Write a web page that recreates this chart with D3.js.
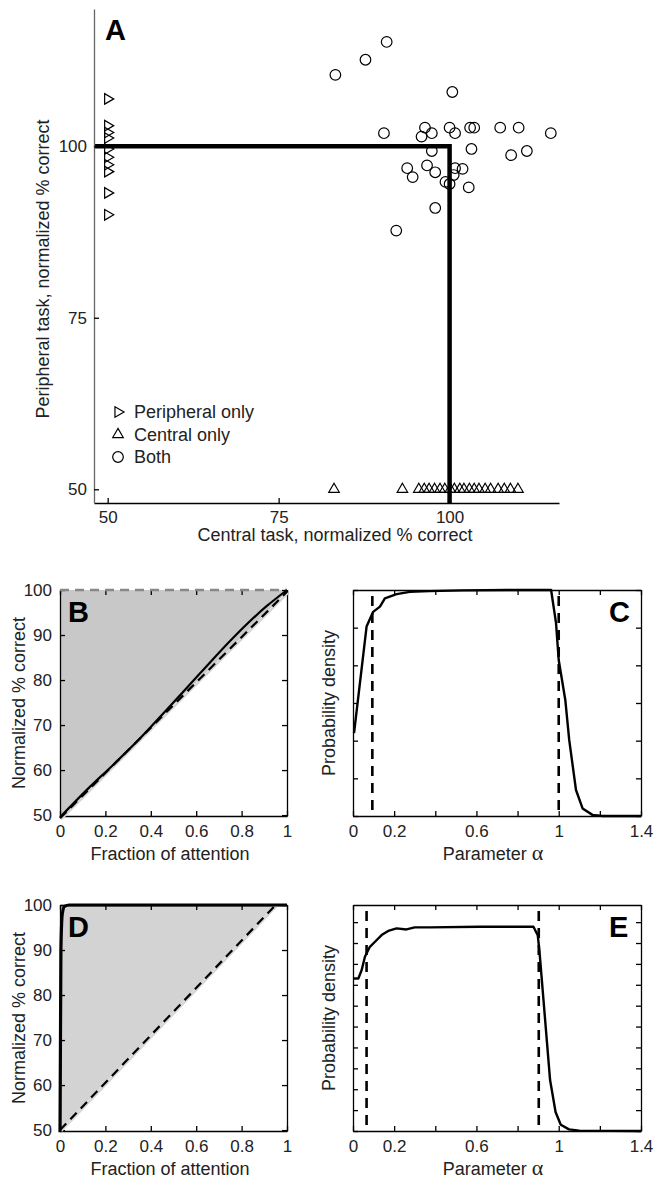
<!DOCTYPE html>
<html>
<head>
<meta charset="utf-8">
<script src="https://cdn.jsdelivr.net/npm/d3@7"></script>
<style>
  body { margin: 0; background: #fff; }
  text { font-family: Arial, "Liberation Sans", sans-serif; }
</style>
</head>
<body>
<div id="chart"></div>
<script>
// ---- panel A: scatter of normalized % correct ----
const aTicks = [50, 75, 100];
const periphOnlyY = [106.9, 103.0, 102.0, 101.2, 99.6, 98.4, 97.3, 96.3, 93.2, 90.0];
const centralOnlyX = [83.1, 93.1, 95.5, 96.3, 97.0, 97.8, 98.6, 99.3, 100.1, 100.7, 101.5, 102.1,
                      102.9, 103.6, 104.3, 105.2, 106.0, 107.1, 108.0, 108.9, 110.0];
const bothX = [90.8, 87.7, 83.3, 100.4, 90.4, 96.4, 95.9, 97.4, 100.0, 100.8, 103.0, 103.6, 107.4,
               110.1, 114.8, 97.4, 103.2, 111.3, 109.0, 93.8, 94.6, 96.7, 97.9, 100.8, 101.9,
               100.6, 99.4, 100.0, 102.8, 97.9, 92.2];
const bothY = [115.2, 112.6, 110.4, 107.9, 101.9, 102.7, 101.4, 101.9, 102.7, 101.9, 102.7, 102.7,
               102.7, 102.7, 101.9, 99.3, 99.6, 99.3, 98.7, 96.8, 95.5, 97.2, 96.2, 96.8, 96.7,
               95.8, 94.8, 94.5, 94.0, 91.0, 87.7];
const optimalX = [48, 100, 100];
const optimalY = [100, 100, 48];
const legendLabels = ["Peripheral only", "Central only", "Both"];

// ---- panels B / D: attention operating characteristic ----
const fracTicks = [0, 0.2, 0.4, 0.6, 0.8, 1];
const pctTicks = [50, 60, 70, 80, 90, 100];
const fracB = [0, 0.118, 0.235, 0.352, 0.47, 0.617, 0.763, 0.91, 1];
const fitB = [49.5, 55.6, 61.2, 67.0, 73.4, 81.5, 89.4, 96.4, 100];
const diagB = [[0, 49.3], [1, 99.6]];
const fracD = [0, 0.004, 0.01, 0.02, 0.04, 1];
const fitD = [49.5, 90, 98, 99.7, 100, 100];
const diagD = [[0, 50], [0.95, 100]];

// ---- panels C / E: posterior of parameter alpha ----
const alphaTicks = [0, 0.2, 0.4, 0.6, 0.8, 1, 1.2, 1.4];
const alphaLabels = ["0", "0.2", "", "0.6", "", "1", "", "1.4"];
const alphaC = [0.005, 0.066, 0.098, 0.131, 0.155, 0.212, 0.276, 0.373, 0.534, 0.75, 0.963,
                0.987, 1.0, 1.032, 1.051, 1.084, 1.116, 1.164, 1.213, 1.4];
const densC = [2.2, 5.03, 5.42, 5.56, 5.78, 5.89, 5.95, 5.97, 5.99, 6.0, 6.0,
               5.12, 4.14, 3.08, 2.02, 0.69, 0.2, 0.03, 0, 0];
const boundsC = [0.094, 1.0];
const alphaE = [0, 0.026, 0.042, 0.058, 0.082, 0.107, 0.139, 0.171, 0.212, 0.26, 0.3, 0.373,
                0.615, 0.877, 0.898, 0.906, 0.958, 0.985, 1.01, 1.05, 1.1, 1.4];
const densE = [7.3, 7.3, 7.7, 8.34, 8.82, 9.06, 9.38, 9.58, 9.7, 9.65, 9.75, 9.75,
               9.78, 9.78, 9.38, 8.66, 2.44, 0.9, 0.3, 0.08, 0.02, 0];
const boundsE = [0.066, 0.903];

const svg = d3.select("#chart").append("svg")
    .attr("width", 656)
    .attr("height", 1180);

function styleAxis(sel, color) {
    sel.selectAll("path.domain").attr("stroke", color || "#000").attr("stroke-width", 1.3);
    sel.selectAll(".tick line").attr("stroke", "#000").attr("stroke-width", 1.3);
    sel.selectAll(".tick text").style("font-size", "17px").attr("fill", "#222");
}

// ================= Panel A =================
const xA = d3.scaleLinear().domain([48, 116]).range([94, 559]);
const yA = d3.scaleLinear().domain([48, 120]).range([503, 9]);

// optimal allocation lines
svg.append("path")
    .datum(optimalX.map((v, i) => [v, optimalY[i]]))
    .attr("d", d3.line().x(d => xA(d[0])).y(d => yA(d[1])))
    .attr("fill", "none")
    .attr("stroke", "#000")
    .attr("stroke-width", 4.5);

const axA = svg.append("g")
    .attr("transform", "translate(0,503)")
    .call(d3.axisBottom(xA).tickValues(aTicks).tickSize(-5).tickSizeOuter(0).tickPadding(8));
styleAxis(axA);

const ayA = svg.append("g")
    .attr("transform", "translate(94,0)")
    .call(d3.axisLeft(yA).tickValues(aTicks).tickSize(-5).tickSizeOuter(0).tickPadding(7));
styleAxis(ayA, "#666");

const triRight = d3.symbol(d3.symbolTriangle, 48);
const triUp = d3.symbol(d3.symbolTriangle, 48);

svg.append("g").selectAll("path")
    .data(periphOnlyY)
    .join("path")
    .attr("d", triRight)
    .attr("transform", d => `translate(${xA(50)},${yA(d)}) rotate(90)`)
    .attr("fill", "none")
    .attr("stroke", "#000")
    .attr("stroke-width", 1.2);

svg.append("g").selectAll("path")
    .data(centralOnlyX)
    .join("path")
    .attr("d", triUp)
    .attr("transform", d => `translate(${xA(d)},${yA(50)})`)
    .attr("fill", "none")
    .attr("stroke", "#000")
    .attr("stroke-width", 1.2);

svg.append("g").selectAll("circle")
    .data(bothX.map((v, i) => [v, bothY[i]]))
    .join("circle")
    .attr("cx", d => xA(d[0]))
    .attr("cy", d => yA(d[1]))
    .attr("r", 5.3)
    .attr("fill", "none")
    .attr("stroke", "#000")
    .attr("stroke-width", 1.2);

// legend
const legA = svg.append("g");
legendLabels.forEach((lab, i) => {
    const ly = 412 + i * 22.5;
    let mk;
    if (i === 2) {
        mk = legA.append("circle").attr("cx", 118).attr("cy", ly).attr("r", 5.3);
    } else {
        mk = legA.append("path").attr("d", triUp)
            .attr("transform", `translate(118,${ly})` + (i === 0 ? " rotate(90)" : ""));
    }
    mk.attr("fill", "none").attr("stroke", "#000").attr("stroke-width", 1.2);
    legA.append("text")
        .attr("x", 134)
        .attr("y", ly)
        .attr("dy", "0.35em")
        .style("font-size", "18px")
        .attr("fill", "#222")
        .text(lab);
});

svg.append("text").attr("x", 105).attr("y", 40)
    .style("font-size", "29px").style("font-weight", "bold").text("A");
svg.append("text").attr("x", 335).attr("y", 541)
    .attr("text-anchor", "middle").style("font-size", "18px").attr("fill", "#222")
    .text("Central task, normalized % correct");
svg.append("text").attr("transform", "translate(49,269) rotate(-90)")
    .attr("text-anchor", "middle").style("font-size", "18px").attr("fill", "#222")
    .text("Peripheral task, normalized % correct");

// ================= Panels B–E =================
function boxPanel(p) {
    const g = svg.append("g");
    const x = d3.scaleLinear().domain(p.xDomain).range([p.left, p.right]);
    const y = d3.scaleLinear().domain(p.yDomain).range([p.bottom, p.top]);

    const bx = g.append("g").attr("transform", `translate(0,${p.bottom})`)
        .call(d3.axisBottom(x).tickValues(p.xTicks)
            .tickFormat((d, i) => p.xLabels[i]).tickSize(-5).tickSizeOuter(0).tickPadding(9));
    styleAxis(bx);
    const tx = g.append("g").attr("transform", `translate(0,${p.top})`)
        .call(d3.axisTop(x).tickValues(p.xTicks).tickFormat("").tickSize(-5).tickSizeOuter(0));
    styleAxis(tx);
    if (p.dashedTop) tx.select("path.domain").attr("stroke", "none");
    const ly = g.append("g").attr("transform", `translate(${p.left},0)`)
        .call(d3.axisLeft(y).tickValues(p.yTicks)
            .tickFormat(p.yLabels ? (d => d) : "").tickSize(-5).tickSizeOuter(0).tickPadding(8));
    styleAxis(ly);
    const ry = g.append("g").attr("transform", `translate(${p.right},0)`)
        .call(d3.axisRight(y).tickValues(p.yTicks).tickFormat("").tickSize(-5).tickSizeOuter(0));
    styleAxis(ry);
    return {g, x, y};
}

function aocPanel(top, bottom, frac, fit, diag, fill, letter, fitWidth, dashedTop) {
    const P = boxPanel({left: 60, right: 287, top: top, bottom: bottom,
        xDomain: [0, 1], yDomain: [49.8, 100], xTicks: fracTicks,
        xLabels: fracTicks.map(String), yTicks: pctTicks, yLabels: true, dashedTop: dashedTop});
    const {g, x, y} = P;
    // shaded region above the no-sharing diagonal
    g.insert("path", ":first-child")
        .datum([[0, diag[0][1]], [0, 100], [diag[1][0], 100], [diag[1][0], diag[1][1]]])
        .attr("d", d3.line().x(d => x(d[0])).y(d => y(d[1])))
        .attr("fill", fill);
    g.append("path").datum(diag)
        .attr("d", d3.line().x(d => x(d[0]) + 1).y(d => y(d[1]) + 1))
        .attr("fill", "none").attr("stroke", "#d6d6d6").attr("stroke-width", 2.5);
    g.append("path").datum(diag)
        .attr("d", d3.line().x(d => x(d[0])).y(d => y(d[1])))
        .attr("fill", "none").attr("stroke", "#000").attr("stroke-width", 2.2)
        .attr("stroke-dasharray", "9,6");
    if (dashedTop) {
        g.append("path").datum([[0, 100], [1, 100]])
            .attr("d", d3.line().x(d => x(d[0])).y(d => y(d[1])))
            .attr("fill", "none").attr("stroke", "#888").attr("stroke-width", 2.4)
            .attr("stroke-dasharray", "9,6");
    }
    g.append("path").datum(frac.map((v, i) => [v, fit[i]]))
        .attr("d", d3.line().curve(d3.curveMonotoneX).x(d => x(d[0])).y(d => y(d[1])))
        .attr("fill", "none").attr("stroke", "#000").attr("stroke-width", fitWidth)
        .attr("stroke-linejoin", "round");
    g.append("text").attr("x", 68).attr("y", top + 32)
        .style("font-size", "29px").style("font-weight", "bold").text(letter);
    g.append("text").attr("x", 170).attr("y", bottom + 44)
        .attr("text-anchor", "middle").style("font-size", "18px").attr("fill", "#222")
        .text("Fraction of attention");
    g.append("text").attr("transform", `translate(25,${(top + bottom) / 2}) rotate(-90)`)
        .attr("text-anchor", "middle").style("font-size", "18px").attr("fill", "#222")
        .text("Normalized % correct");
}

function alphaPanel(top, bottom, yMax, yTicks, alpha, dens, bounds, letter) {
    const P = boxPanel({left: 353, right: 641, top: top, bottom: bottom,
        xDomain: [0, 1.4], yDomain: [0, yMax], xTicks: alphaTicks,
        xLabels: alphaLabels, yTicks: yTicks, yLabels: false});
    const {g, x, y} = P;
    g.append("g").selectAll("line")
        .data(bounds)
        .join("line")
        .attr("x1", d => x(d)).attr("x2", d => x(d))
        .attr("y1", y(yMax) + 6).attr("y2", y(0))
        .attr("stroke", "#000").attr("stroke-width", 2.6)
        .attr("stroke-dasharray", "10,7");
    g.append("path").datum(alpha.map((v, i) => [v, dens[i]]))
        .attr("d", d3.line().x(d => x(d[0])).y(d => y(d[1])))
        .attr("fill", "none").attr("stroke", "#000").attr("stroke-width", 2.4)
        .attr("stroke-linejoin", "round");
    g.append("text").attr("x", 609).attr("y", top + 32)
        .style("font-size", "29px").style("font-weight", "bold").text(letter);
    const t = g.append("text").attr("x", 493).attr("y", bottom + 44)
        .attr("text-anchor", "middle").style("font-size", "18px").attr("fill", "#222");
    t.append("tspan").text("Parameter ");
    t.append("tspan").style("font-family", "'Liberation Serif', 'DejaVu Serif', serif")
        .style("font-size", "22px").text("α");
    g.append("text").attr("transform", `translate(335,${(top + bottom) / 2}) rotate(-90)`)
        .attr("text-anchor", "middle").style("font-size", "18px").attr("fill", "#222")
        .text("Probability density");
}

aocPanel(590, 816, fracB, fitB, diagB, "#c8c8c8", "B", 2.2, true);
alphaPanel(590, 816, 6, d3.range(0, 7), alphaC, densC, boundsC, "C");
aocPanel(905, 1131, fracD, fitD, diagD, "#d3d3d3", "D", 3.2, false);
alphaPanel(905, 1131, 10.82, d3.range(0, 11), alphaE, densE, boundsE, "E");
</script>
</body>
</html>
